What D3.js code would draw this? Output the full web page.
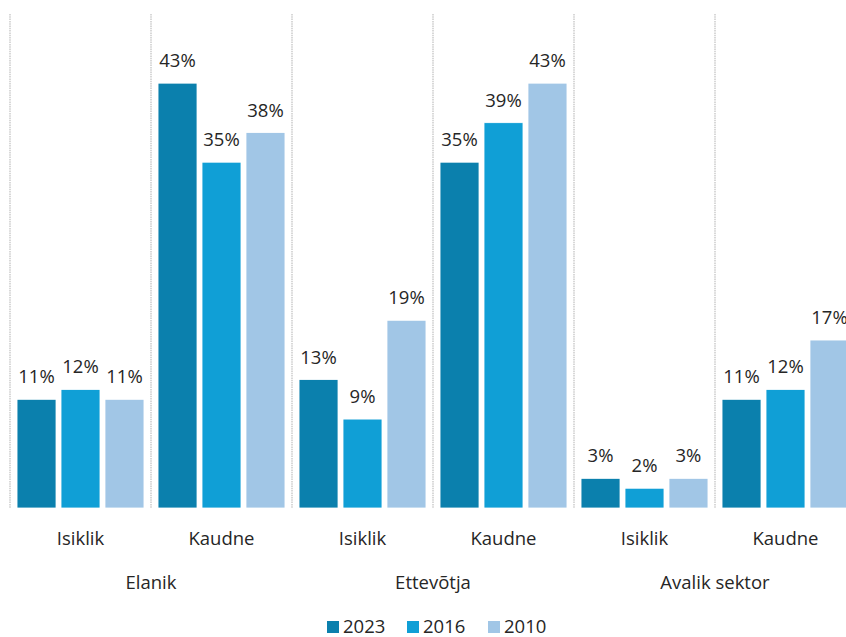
<!DOCTYPE html>
<html lang="et">
<head>
<meta charset="utf-8">
<style>
  body { margin: 0; background: #fff; }
  text { font-family: "Open Sans", "Noto Sans", sans-serif; fill: #262626; }
</style>
</head>
<body>
<div id="viz"></div>
<script src="https://cdn.jsdelivr.net/npm/d3@7"></script>
<script>

var groups = ["Elanik", "Ettevõtja", "Avalik sektor"];
var subcats = ["Isiklik", "Kaudne"];
var years = ["2023", "2016", "2010"];
var colors = ["#0b80ad", "#109fd6", "#a1c6e6"];

// values in %, order: Elanik Isiklik, Elanik Kaudne, Ettevõtja Isiklik, ...
var v2023 = [11, 43, 13, 35, 3, 11];
var v2016 = [12, 35, 9, 39, 2, 12];
var v2010 = [11, 38, 19, 43, 3, 17];
var series = [v2023, v2016, v2010];

var w = 846, h = 637;
var fs = "18.5px";

var svg = d3.select("#viz").append("svg")
    .attr("width", w)
    .attr("height", h);

// 6 slots, one per group/subcategory pair (last one runs past the right edge)
var slots = [];
groups.forEach(function(g){
  subcats.forEach(function(s){ slots.push({group: g, sub: s}); });
});

var x = d3.scaleBand()
    .domain(d3.range(slots.length))
    .range([10, 856]);

var xInner = d3.scaleBand()
    .domain(years)
    .range([0, x.bandwidth()])
    .paddingInner(0.114)
    .paddingOuter(0.16);

var y = d3.scaleLinear()
    .domain([0, 50])
    .range([508, 14]);

// dotted separators
svg.selectAll(".sep")
  .data(d3.range(slots.length + 1))
  .enter().append("line")
    .attr("class", "sep")
    .attr("x1", function(i){ return x.range()[0] + i * x.step(); })
    .attr("x2", function(i){ return x.range()[0] + i * x.step(); })
    .attr("y1", y(50))
    .attr("y2", y(0))
    .style("stroke", "#cfcfcf")
    .style("stroke-width", 1.6)
    .style("stroke-dasharray", "1.5,0.8");

var slotG = svg.selectAll(".slot")
  .data(slots)
  .enter().append("g")
    .attr("class", "slot")
    .attr("transform", function(d, i){ return "translate(" + x(i) + ",0)"; });

slotG.each(function(d, i){
  var g = d3.select(this);
  var bars = years.map(function(yr, k){ return {year: yr, value: series[k][i], color: colors[k]}; });

  g.selectAll("rect")
    .data(bars)
    .enter().append("rect")
      .attr("x", function(b){ return xInner(b.year); })
      .attr("width", xInner.bandwidth())
      .attr("y", function(b){ return y(b.value); })
      .attr("height", function(b){ return y(0) - y(b.value); })
      .style("fill", function(b){ return b.color; })
      .style("stroke", "#fff")
      .style("stroke-width", 0.8);

  g.selectAll(".val")
    .data(bars)
    .enter().append("text")
      .attr("class", "val")
      .attr("x", function(b){ return xInner(b.year) + xInner.bandwidth() / 2; })
      .attr("y", function(b){ return y(b.value) - 16; })
      .attr("text-anchor", "middle")
      .style("font-size", fs)
      .text(function(b){ return b.value + "%"; });

  g.append("text")
    .attr("x", x.bandwidth() / 2)
    .attr("y", 545)
    .attr("text-anchor", "middle")
    .style("font-size", fs)
    .text(d.sub);
});

// group labels centred under their two slots
svg.selectAll(".grp")
  .data(groups)
  .enter().append("text")
    .attr("class", "grp")
    .attr("x", function(d, i){ return x(i * 2) + x.step(); })
    .attr("y", 589)
    .attr("text-anchor", "middle")
    .style("font-size", fs)
    .text(function(d){ return d; });

// legend
var legX = [327, 407, 488];
var leg = svg.selectAll(".leg")
  .data(years)
  .enter().append("g")
    .attr("class", "leg")
    .attr("transform", function(d, i){ return "translate(" + legX[i] + ",621)"; });

leg.append("rect")
  .attr("width", 12)
  .attr("height", 12)
  .style("fill", function(d, i){ return colors[i]; });

leg.append("text")
  .attr("x", 16)
  .attr("y", 12)
  .style("font-size", fs)
  .text(function(d){ return d; });

</script>
</body>
</html>
